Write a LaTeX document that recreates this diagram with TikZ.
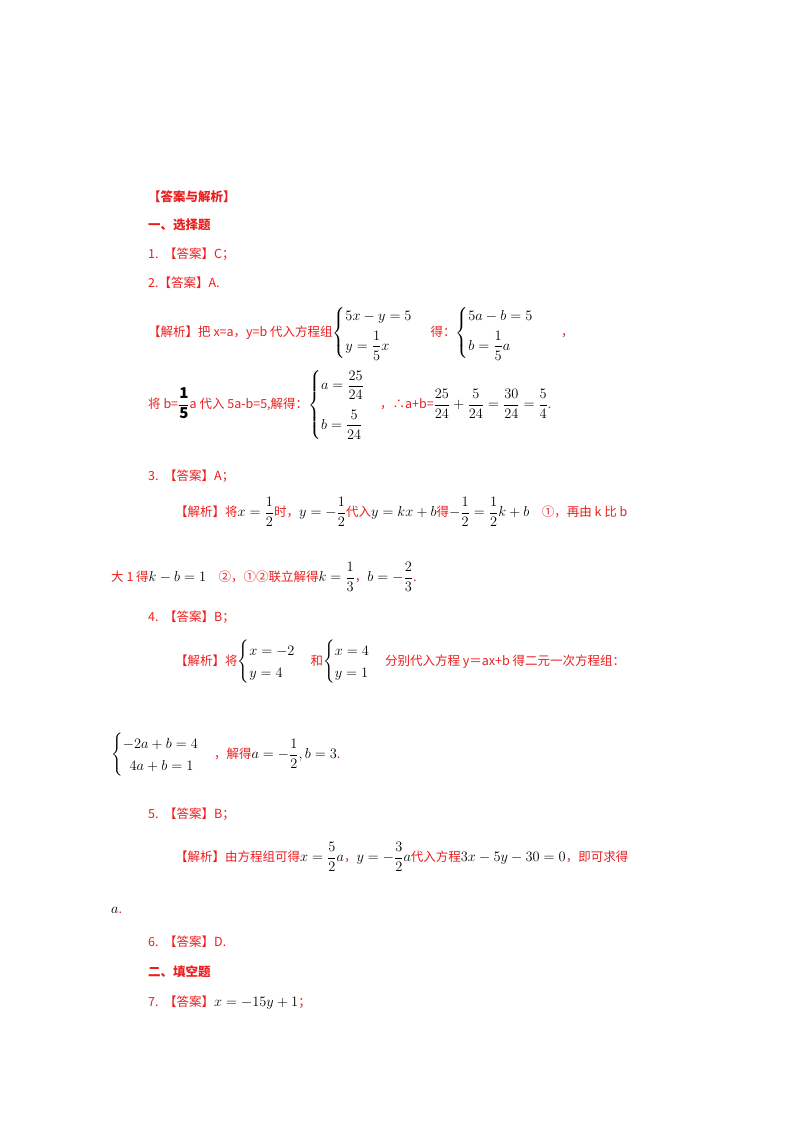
\documentclass[tikz,border=0pt]{standalone}
\usepackage{amsmath}
\usepackage{fontspec}
\setmainfont{Noto Sans CJK SC}
\usetikzlibrary{positioning}
\definecolor{ansred}{RGB}{235,30,30}
\newcommand{\blk}[1]{{\fontsize{15}{18}\selectfont\textcolor{black}{#1}}}
\begin{document}
\begin{tikzpicture}[x=1pt,y=-1pt,
line/.style={anchor=west, inner sep=0pt, text=ansred, font=\fontsize{12.5}{15}\selectfont},
head/.style={line, font=\fontsize{12.5}{15}\selectfont\bfseries},
]
\useasboundingbox (0,0) rectangle (800,1132);
\node[head] (title) at (148,197) {【答案与解析】};
\node[head] (sec1) at (148,225) {一、选择题};
\node[line] (q1) at (148,254) {1.\ \ 【答案】C；};
\node[line] (q2) at (148,283) {2.【答案】A.};
\node[line] (q2a) at (148,333) {【解析】把 x=a，y=b 代入方程组\blk{$\begin{cases}5x-y=5\\[4pt] y=\dfrac15x\end{cases}$}\ 得：\blk{$\begin{cases}5a-b=5\\[4pt] b=\dfrac15a\end{cases}$}\quad ，};
\node[line] (q2b) at (148,405) {将 b=\blk{$\mathbf{\dfrac{1}{5}}$}a 代入 5a-b=5,解得：\blk{$\begin{cases}a=\dfrac{25}{24}\\[14pt] b=\dfrac{5}{24}\end{cases}$}，∴a+b=\blk{$\dfrac{25}{24}+\dfrac{5}{24}=\dfrac{30}{24}=\dfrac54$}.};
\node[line] (q3) at (148,476) {3.\ \ 【答案】A；};
\node[line] (q3a) at (175,512) {【解析】将\blk{$x=\dfrac12$}时，\blk{$y=-\dfrac12$}代入\blk{$y=kx+b$}得\blk{$-\dfrac12=\dfrac12k+b$}\quad ①，再由 k 比 b};
\node[line] (q3b) at (111,577) {大 1 得\blk{$k-b=1$}\quad ②，①②联立解得\blk{$k=\dfrac13$}，\blk{$b=-\dfrac23$}.};
\node[line] (q4) at (148,617) {4.\ \ 【答案】B；};
\node[line] (q4a) at (175,662) {【解析】将\blk{$\begin{cases}x=-2\\ y=4\end{cases}$}和\blk{$\begin{cases}x=4\\ y=1\end{cases}$}分别代入方程 y＝ax+b 得二元一次方程组：};
\node[line] (q4b) at (111,755) {\blk{$\begin{cases}-2a+b=4\\ \ \ 4a+b=1\end{cases}$}，解得\blk{$a=-\dfrac12,b=3$}.};
\node[line] (q5) at (148,814) {5.\ \ 【答案】B；};
\node[line] (q5a) at (175,857) {【解析】由方程组可得\blk{$x=\dfrac52a$}，\blk{$y=-\dfrac32a$}代入方程\blk{$3x-5y-30=0$}，即可求得};
\node[line] (q5b) at (111,910) {\blk{$a$}.};
\node[line] (q6) at (148,942) {6.\ \ 【答案】D.};
\node[head] (sec2) at (148,972) {二、填空题};
\node[line] (q7) at (148,1003) {7.\ \ 【答案】\blk{$x=-15y+1$}；};
\end{tikzpicture}
\end{document}
